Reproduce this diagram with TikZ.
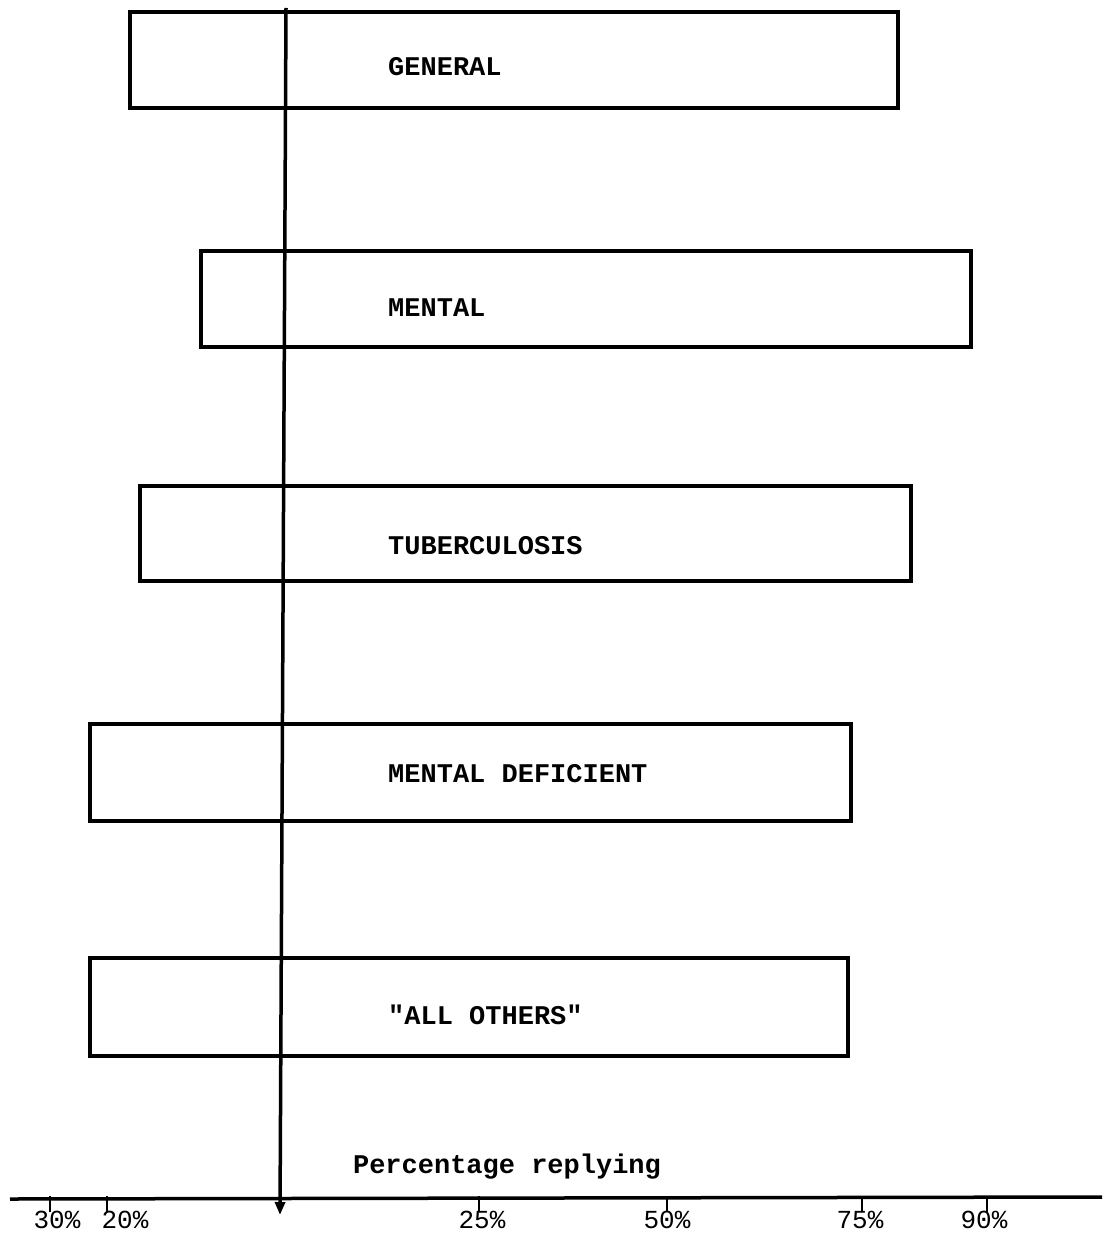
\documentclass[tikz,border=0pt]{standalone}
\usepackage{fontspec}
\setmonofont{Liberation Mono}
\usetikzlibrary{arrows.meta}
\begin{document}
\begin{tikzpicture}[x=1pt,y=-1pt,
  bar/.style={draw=black, line width=3.5pt, rectangle, inner sep=0pt},
  lbl/.style={anchor=west, inner sep=0pt, font=\fontsize{27}{27}\selectfont\ttfamily\bfseries},
  pct/.style={anchor=north, inner sep=0pt, font=\fontsize{26}{26}\selectfont\ttfamily},
  tick/.style={line width=2.5pt},
  ax/.style={line width=3.5pt}]
\useasboundingbox (0,0) rectangle (1109,1238);
% boxes
\node[bar, minimum width=768pt, minimum height=96pt] (gen) at (514,60) {};
\node[bar, minimum width=770pt, minimum height=96pt] (men) at (586,299) {};
\node[bar, minimum width=771pt, minimum height=95pt] (tub) at (525.5,533.5) {};
\node[bar, minimum width=761pt, minimum height=97pt] (mdf) at (470.5,772.5) {};
\node[bar, minimum width=758pt, minimum height=98pt] (oth) at (469,1007) {};
% labels
\node[lbl] (tgen) at (388,67) {GENERAL};
\node[lbl] (tmen) at (388,308) {MENTAL};
\node[lbl] (ttub) at (388,546) {TUBERCULOSIS};
\node[lbl] (tmdf) at (388,774) {MENTAL DEFICIENT};
\node[lbl] (toth) at (388,1015) {"ALL OTHERS"};
% axis
\coordinate (axl) at (10,1199);
\coordinate (axr) at (1102,1197);
\draw[ax] (axl) -- (axr);
% vertical line with arrow
\coordinate (vtop) at (286,8);
\coordinate (vbot) at (280,1215);
\draw[ax, -{Triangle[length=13pt,width=10pt]}] (vtop) -- (vbot);
% ticks
\foreach \n/\x in {a/50,b/107,c/479,d/667,e/862,f/987}{
  \coordinate (t\n) at (\x,1196);
  \coordinate (u\n) at (\x,1212);
  \draw[tick] (t\n) -- (u\n);
}
% tick labels
\node[pct] (l30) at (57,1211) {30\%};
\node[pct] (l20) at (125,1211) {20\%};
\node[pct] (l25) at (482,1211) {25\%};
\node[pct] (l50) at (667,1211) {50\%};
\node[pct] (l75) at (860,1211) {75\%};
\node[pct] (l90) at (984,1211) {90\%};
% axis title
\node[inner sep=0pt, font=\fontsize{27}{27}\selectfont\ttfamily\bfseries] (title) at (507,1167) {Percentage replying};
\end{tikzpicture}
\end{document}
